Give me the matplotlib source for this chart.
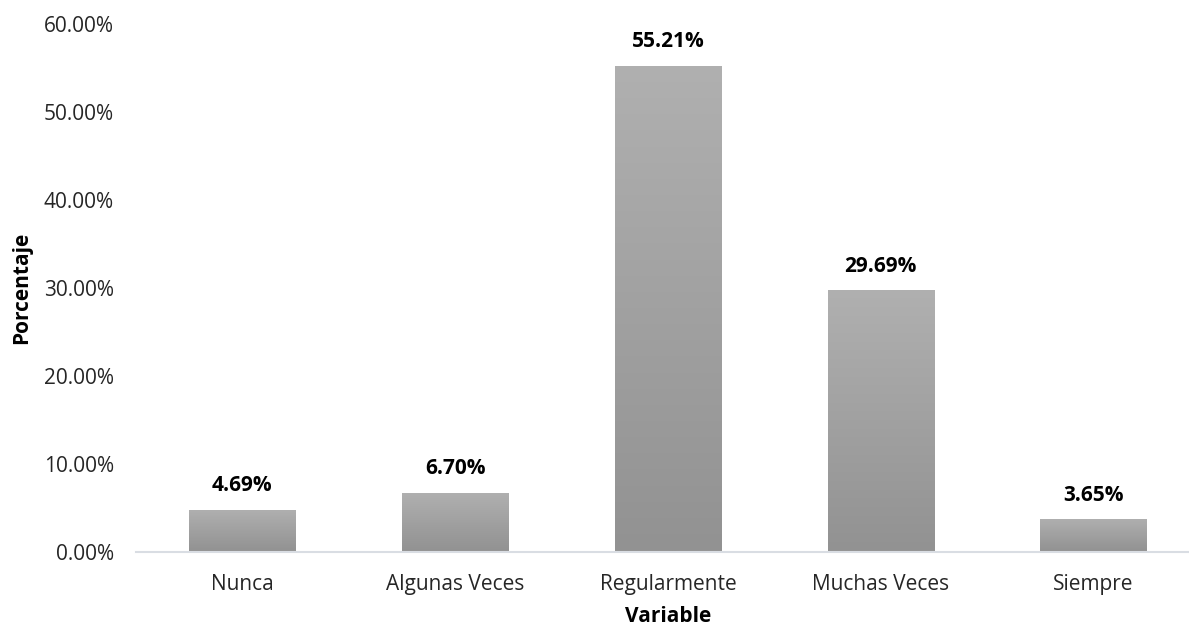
import numpy as np
import matplotlib.pyplot as plt
from matplotlib.colors import LinearSegmentedColormap

categorias = ["Nunca", "Algunas Veces", "Regularmente", "Muchas Veces", "Siempre"]
porcentajes = [4.69, 6.70, 55.21, 29.69, 3.65]
etiquetas = ["4.69%", "6.70%", "55.21%", "29.69%", "3.65%"]
yticks = [0, 10, 20, 30, 40, 50, 60]

plt.rcParams['font.family'] = ['Open Sans', 'DejaVu Sans']
fs = 15

fig = plt.figure(figsize=(11.89, 6.28), dpi=100)
ax = fig.add_axes([136 / 1189, 76.5 / 628, 1064 / 1189, 527.5 / 628])

x = np.arange(len(categorias))
bars = ax.bar(x, porcentajes, width=0.5, color='none', edgecolor='none')

# degradado vertical dentro de cada barra (claro arriba, oscuro abajo)
cmap = LinearSegmentedColormap.from_list('gris', ['#929292', '#b0b0b0'])
grad = np.linspace(0, 1, 256).reshape(-1, 1)
for b in bars:
    x0, w, h = b.get_x(), b.get_width(), b.get_height()
    im = ax.imshow(grad, cmap=cmap, origin='lower', aspect='auto',
                   extent=[x0, x0 + w, 0, h], zorder=2)
    im.set_clip_path(b)

for xi, v, t in zip(x, porcentajes, etiquetas):
    ax.annotate(t, (xi, v), xytext=(0, 10), textcoords='offset points',
                ha='center', va='bottom', fontsize=fs, fontweight='bold')

ax.set_xlim(-0.5, 4.5)
ax.set_ylim(0, 60)
ax.set_yticks(yticks)
ax.set_yticklabels([f"{v:.2f}%" for v in yticks], fontsize=fs, color='#262626')
ax.set_xticks(x)
ax.set_xticklabels(categorias, fontsize=fs, color='#262626')
ax.tick_params(length=0)
ax.tick_params(axis='y', pad=16)
ax.tick_params(axis='x', pad=16)

for s in ['top', 'right', 'left']:
    ax.spines[s].set_visible(False)
ax.spines['bottom'].set_color('#d9dde3')
ax.spines['bottom'].set_linewidth(1.5)

ax.set_xlabel("Variable", fontsize=fs, fontweight='bold', labelpad=8)
ax.set_ylabel("Porcentaje", fontsize=fs, fontweight='bold', labelpad=8)

fig.savefig("out.png", dpi=100)
